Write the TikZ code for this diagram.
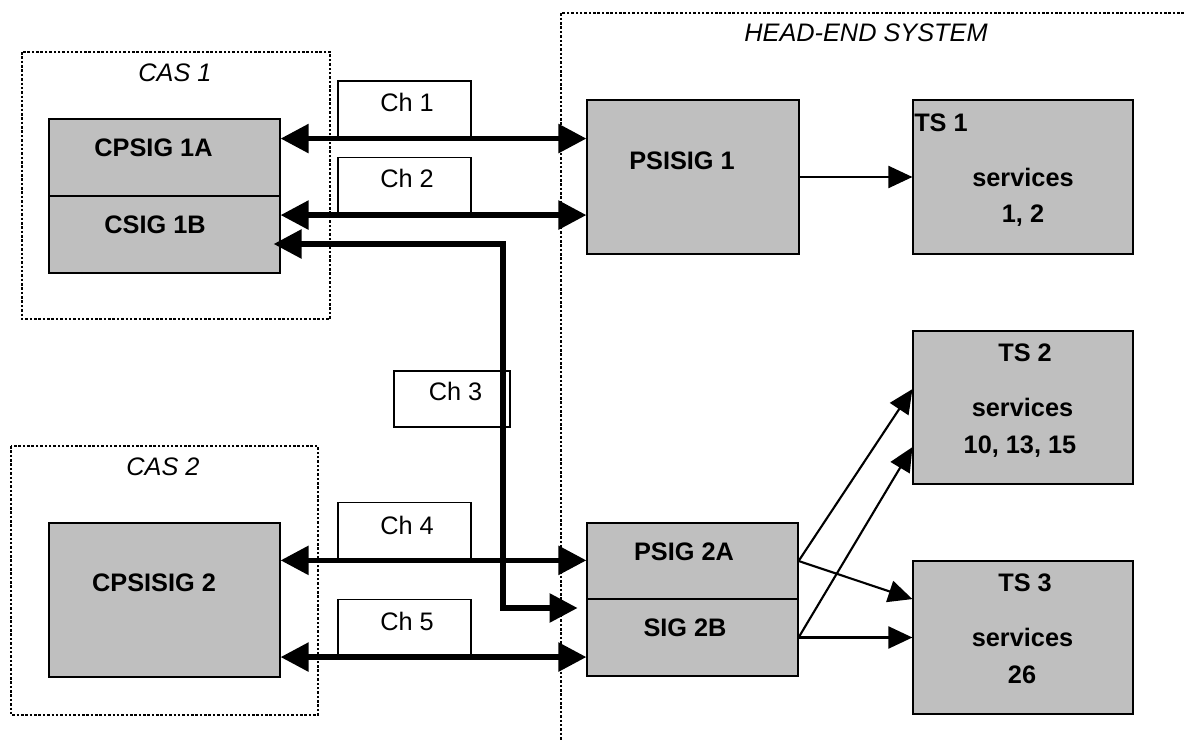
\documentclass[tikz,border=0pt]{standalone}
\usepackage{fontspec}
\setmainfont{Liberation Sans}
\usetikzlibrary{arrows.meta}
\colorlet{boxgray}{black!25}
\newcommand{\diagfont}{\fontsize{18}{21}\selectfont}

\begin{document}
\begin{tikzpicture}[x=0.025cm, y=-0.025cm,
  unitbox/.style={draw, fill=boxgray, line width=0.8pt, inner sep=0pt},
  chanbox/.style={draw, fill=white, line width=0.8pt, inner sep=0pt,
    minimum width=3.325cm, minimum height=1.425cm},
  zone/.style={line width=1.8pt, dash pattern=on 1.8pt off 1.3pt},
  link/.style={line width=4pt,
    {Triangle[length=0.7cm,width=0.7cm]}-{Triangle[length=0.7cm,width=0.7cm]}},
  feed/.style={line width=1.5pt, -{Triangle[length=0.6cm,width=0.55cm]}},
  lbl/.style={font=\diagfont\bfseries, text depth=0pt},
  zonetitle/.style={font=\diagfont\itshape, text depth=0pt},
  chtext/.style={font=\diagfont, text depth=0pt}]
\useasboundingbox (0,0) rectangle (1184,740);

% dotted areas
\draw[zone] (22,52) rectangle (330,319);
\draw[zone] (11,446) rectangle (318,715);
\draw[zone] (1184,13) -- (561,13) -- (561,740);
\node[zonetitle] (cas1t) at (175,73) {CAS 1};
\node[zonetitle] (cas2t) at (163,467) {CAS 2};
\node[zonetitle] (headt) at (866,33) {HEAD-END SYSTEM};

% CAS side
\node[unitbox, minimum width=5.775cm, minimum height=1.925cm] (cpsigA) at (164.5,157.5) {};
\node[unitbox, minimum width=5.775cm, minimum height=1.925cm] (csigB) at (164.5,234.5) {};
\node[unitbox, minimum width=5.775cm, minimum height=3.85cm] (cpsisig) at (164.5,600) {};
\node[lbl] (cpsigAt) at (153.5,147.5) {CPSIG 1A};
\node[lbl] (csigBt) at (155,224.5) {CSIG 1B};
\node[lbl] (cpsisigt) at (154,583) {CPSISIG 2};

% head-end side
\node[unitbox, minimum width=5.3cm, minimum height=3.85cm] (psisig) at (693,177) {};
\node[unitbox, minimum width=5.275cm, minimum height=1.9cm] (psigA) at (692.5,561) {};
\node[unitbox, minimum width=5.275cm, minimum height=1.925cm] (sigB) at (692.5,637.5) {};
\node[lbl] (psisigt) at (682,160.5) {PSISIG 1};
\node[lbl] (psigAt) at (684,552) {PSIG 2A};
\node[lbl] (sigBt) at (685,628) {SIG 2B};

\node[unitbox, minimum width=5.5cm, minimum height=3.85cm] (ts1) at (1023,177) {};
\node[unitbox, minimum width=5.5cm, minimum height=3.825cm] (ts2) at (1023,407.5) {};
\node[unitbox, minimum width=5.5cm, minimum height=3.825cm] (ts3) at (1023,637.5) {};
\node[lbl] (ts1a) at (941,122.5) {TS 1};
\node[lbl] (ts1b) at (1023,177) {services};
\node[lbl] (ts1c) at (1023,214) {1, 2};
\node[lbl] (ts2a) at (1025,352.5) {TS 2};
\node[lbl] (ts2b) at (1022.5,407.5) {services};
\node[lbl] (ts2c) at (1020,445) {10, 13, 15};
\node[lbl] (ts3a) at (1025,582.5) {TS 3};
\node[lbl] (ts3b) at (1022.5,637.5) {services};
\node[lbl] (ts3c) at (1022,675) {26};

% channels
\node[chanbox] (ch1) at (404.5,109.5) {};
\node[chanbox] (ch2) at (404.5,186) {};
\node[chanbox, minimum width=2.9cm, minimum height=1.4cm] (ch3) at (452,399) {};
\node[chanbox] (ch4) at (404.5,531.3) {};
\node[chanbox] (ch5) at (404.5,628) {};
\node[chtext] (ch1t) at (407,102.5) {Ch 1};
\node[chtext] (ch2t) at (407,178) {Ch 2};
\node[chtext] (ch3t) at (455.5,391) {Ch 3};
\node[chtext] (ch4t) at (407,525.5) {Ch 4};
\node[chtext] (ch5t) at (407,621.5) {Ch 5};

\draw[link] (cpsigA.east |- ch1.south) -- (psisig.west |- ch1.south);
\draw[link] (csigB.east |- ch2.south) -- (psisig.west |- ch2.south);
\draw[link] (cpsisig.east |- ch4.south) -- (psigA.west |- ch4.south);
\draw[link] (cpsisig.east |- ch5.south) -- (sigB.west |- ch5.south);
\coordinate (bendtop) at (503,244);
\coordinate (bendlow) at (503,608);
\draw[link, shorten <=-0.175cm, shorten >=0.22cm]
  (csigB.east |- bendtop) -- (bendtop) -- (bendlow) -- (sigB.west |- bendlow);

% transport streams
\draw[feed] (psisig) -- (ts1);
\draw[feed] (psigA.east) -- ([yshift=0.46cm]ts2.west);
\draw[feed] (psigA.east) -- ([yshift=0.96cm]ts3.west);
\draw[feed] (sigB.east) -- ([yshift=-0.99cm]ts2.west);
\draw[feed] (sigB) -- (ts3);
\end{tikzpicture}
\end{document}
